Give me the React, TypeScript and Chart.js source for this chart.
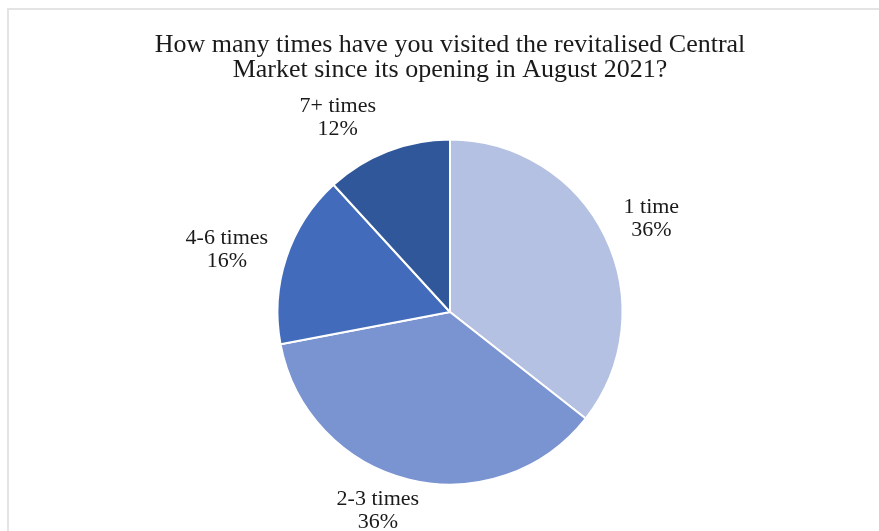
import React, { useEffect, useRef } from "react";
import { Chart, registerables } from "chart.js";

Chart.register(...registerables);

// ---- data ----
const categories = ["1 time", "2-3 times", "4-6 times", "7+ times"];
const shares = [35.6, 36.4, 16.2, 11.8];
const sliceColors = ["#B4C1E2", "#7A93D1", "#426CBB", "#30579A"];
const titleLines = [
  "How many times have you visited the revitalised Central",
  "Market since its opening in August 2021?",
];

// ---- layout constants ----
const FONT = "'Liberation Serif', 'Times New Roman', serif";
const TITLE_SIZE = 26;
const TITLE_BASELINES = [52, 77];
const LABEL_SIZE = 22;
const LABEL_LINE = 23;
const LABEL_GAP = 16;
const labelNudge = [
  [4, 3],
  [-22, -7],
  [-3, 11],
  [-35, 4],
];

const titlePlugin = {
  id: "serifTitle",
  afterDraw(chart: any) {
    const ctx = chart.ctx;
    const ca = chart.chartArea;
    const cx = (ca.left + ca.right) / 2;
    ctx.save();
    ctx.fillStyle = "#1a1a1a";
    ctx.font = `${TITLE_SIZE}px ${FONT}`;
    ctx.textAlign = "center";
    ctx.textBaseline = "alphabetic";
    titleLines.forEach((t, i) => ctx.fillText(t, cx, TITLE_BASELINES[i]));
    ctx.restore();
  },
};

const labelPlugin = {
  id: "outsideLabels",
  afterDraw(chart: any) {
    const ctx = chart.ctx;
    const meta = chart.getDatasetMeta(0);
    const total = shares.reduce((a, b) => a + b, 0);
    ctx.save();
    ctx.fillStyle = "#1a1a1a";
    ctx.font = `${LABEL_SIZE}px ${FONT}`;
    ctx.textAlign = "center";
    ctx.textBaseline = "middle";
    meta.data.forEach((arc: any, i: number) => {
      const p = arc.getProps(["x", "y", "startAngle", "endAngle", "outerRadius"], true);
      const mid = (p.startAngle + p.endAngle) / 2;
      const ux = Math.cos(mid);
      const uy = Math.sin(mid);
      const lines = [categories[i], `${Math.round((shares[i] / total) * 100)}%`];
      const w = Math.max(...lines.map((l) => ctx.measureText(l).width));
      const h = LABEL_LINE * 2;
      const s = Math.min(
        Math.abs(ux) > 1e-6 ? w / 2 / Math.abs(ux) : Infinity,
        Math.abs(uy) > 1e-6 ? h / 2 / Math.abs(uy) : Infinity
      );
      const d = p.outerRadius + LABEL_GAP + s;
      const cx = p.x + ux * d + labelNudge[i][0];
      const cy = p.y + uy * d + labelNudge[i][1];
      ctx.fillText(lines[0], cx, cy - LABEL_LINE / 2);
      ctx.fillText(lines[1], cx, cy + LABEL_LINE / 2);
    });
    ctx.restore();
  },
};

export default function App() {
  const ref = useRef<HTMLCanvasElement | null>(null);
  useEffect(() => {
    if (!ref.current) return;
    const chart = new Chart(ref.current, {
      type: "pie",
      data: {
        labels: categories,
        datasets: [
          {
            data: shares,
            backgroundColor: sliceColors,
            borderColor: "#ffffff",
            borderWidth: 2,
          },
        ],
      },
      options: {
        responsive: false,
        animation: false,
        layout: { padding: { top: 138.5, bottom: 45.5, left: 20, right: 20 } },
        plugins: {
          legend: { display: false },
          tooltip: { enabled: false },
          title: { display: false },
        },
      },
      plugins: [titlePlugin, labelPlugin],
    });
    return () => chart.destroy();
  }, []);

  return (
    <div
      style={{
        position: "fixed",
        left: 0,
        top: 0,
        width: 879,
        height: 531,
        overflow: "hidden",
        background: "#ffffff",
      }}
    >
      <div
        style={{
          position: "absolute",
          left: 7,
          top: 8,
          width: 1000,
          height: 1000,
          border: "2px solid #e4e4e4",
          boxSizing: "border-box",
        }}
      />
      <canvas
        ref={ref}
        width={880}
        height={531}
        style={{ position: "absolute", left: 10, top: 0, width: 880, height: 531 }}
      />
    </div>
  );
}
